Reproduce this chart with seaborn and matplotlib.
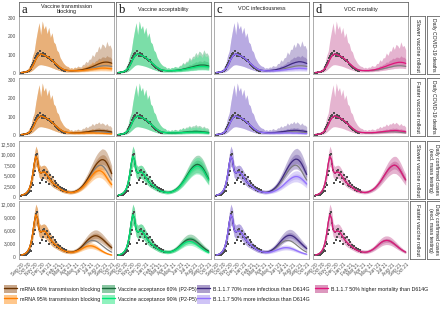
import numpy as np
import pandas as pd
import matplotlib
matplotlib.use("Agg")
import matplotlib.pyplot as plt
import matplotlib.dates as mdates
from matplotlib.patches import Patch
from matplotlib.lines import Line2D
import seaborn as sns

sns.set_style("white")
plt.rcParams['font.family'] = ['Liberation Sans', 'DejaVu Sans']

W, H = 440, 311

# ----------------------
# Data
# ----------------------
weeks = pd.date_range("2020-09-01", periods=57, freq="7D")   # model grid
proj_weeks = weeks[30:]

# observed daily deaths / cases (every 4 days)
obs_deaths = [2, 3, 3, 4, 5, 6, 8, 10,
              14, 18, 24, 32, 42, 55, 68, 80,
              92, 105, 112, 98, 118, 104, 95, 110,
              100, 92, 105, 96, 88, 84, 90, 78,
              72, 66, 70, 58, 52, 48, 44, 38,
              34, 30, 26, 22, 18, 15, 12, 10]
obs_cases = [300, 420, 350, 520, 600, 480, 750, 900,
             1100, 1500, 1300, 2400, 3300, 2900, 5100, 6200,
             9800, 10100, 7800, 6400, 3200, 5600, 3900, 6200,
             4500, 6300, 5100, 3600, 5800, 4400, 3000, 5200,
             4300, 3400, 4600, 2900, 3800, 2600, 3300, 2300,
             2800, 2000, 2400, 1700, 2100, 1500, 1800, 1300,
             1600, 1200]

# fitted period (Sep 2020 - Mar 2021), shared by all scenarios
deaths_fit = [3, 4, 5, 7, 10, 16, 25, 38, 55, 75, 90, 100, 104, 102, 98,
              94, 90, 85, 78, 70, 62, 54, 46, 38, 31, 25, 20, 17, 15, 14]
deaths_fit_hi = [8, 11, 12, 17, 22, 38, 55, 95, 120, 180, 230, 275, 210, 285, 240,
                 260, 215, 250, 195, 220, 170, 160, 125, 115, 85, 70, 55, 45, 38, 36]
deaths_fit_lo = [1, 1, 2, 3, 4, 6, 10, 16, 24, 32, 40, 45, 46, 45, 43,
                 41, 39, 36, 33, 29, 26, 22, 19, 16, 13, 10, 8, 7, 6, 6]
cases_fit = [400, 500, 650, 900, 1300, 2000, 3200, 5200, 7800, 9600, 8800, 6200, 5600, 5800, 5900,
             5700, 5200, 4600, 4000, 3500, 3100, 2800, 2500, 2200, 1900, 1650, 1450, 1300, 1200, 1100]
cases_fit_hi = [500, 650, 850, 1200, 1700, 2600, 4200, 6800, 10000, 12000, 11000, 7800, 7200, 7400, 7500,
                7300, 6700, 6000, 5300, 4700, 4200, 3800, 3400, 3000, 2650, 2350, 2100, 1900, 1750, 1650]
cases_fit_lo = [300, 380, 480, 650, 950, 1450, 2300, 3800, 5800, 7300, 6700, 4700, 4200, 4300, 4400,
                4200, 3800, 3300, 2900, 2500, 2200, 2000, 1750, 1550, 1350, 1150, 1000, 900, 820, 750]

# projections (Mar 30 - Sep 28 2021), medians
# deaths, slower rollout
ds_base = [13, 13, 13, 13, 14, 14, 15, 16, 17, 18, 20, 22, 24, 26, 28, 30, 32, 34, 36, 38, 39, 40, 40, 40, 39, 38, 36]
ds_a60 = [13, 13, 13, 14, 14, 15, 16, 17, 19, 21, 23, 26, 29, 32, 35, 39, 43, 47, 51, 54, 57, 59, 60, 60, 59, 57, 54]
ds_a95 = [13, 13, 13, 13, 13, 13, 14, 14, 15, 16, 17, 18, 19, 21, 22, 23, 24, 25, 26, 27, 27, 27, 27, 26, 25, 24, 23]
ds_b60 = [13, 13, 13, 13, 14, 14, 15, 16, 17, 19, 21, 23, 25, 27, 30, 32, 34, 37, 39, 41, 43, 44, 44, 44, 43, 41, 39]
ds_b90 = [13, 13, 13, 13, 14, 14, 15, 15, 16, 17, 19, 20, 22, 24, 26, 28, 30, 31, 33, 35, 36, 37, 37, 37, 36, 35, 33]
ds_c70 = [13, 13, 14, 14, 15, 16, 17, 19, 21, 23, 26, 29, 32, 36, 40, 44, 48, 52, 55, 58, 60, 62, 62, 61, 59, 56, 53]
ds_c50 = [13, 12, 12, 12, 12, 12, 13, 13, 14, 15, 16, 17, 18, 19, 20, 21, 22, 23, 24, 25, 25, 26, 26, 25, 25, 24, 23]
ds_d50 = [14, 14, 14, 14, 15, 16, 17, 19, 21, 23, 26, 29, 32, 35, 38, 42, 45, 48, 51, 54, 56, 58, 59, 59, 58, 56, 53]
# deaths, faster rollout
df_base = [13, 12, 12, 12, 12, 12, 12, 13, 13, 14, 14, 15, 16, 16, 17, 17, 18, 18, 18, 18, 17, 17, 16, 15, 14, 13, 12]
df_a60 = [13, 13, 12, 12, 13, 13, 13, 14, 15, 16, 17, 18, 19, 21, 22, 23, 24, 25, 25, 25, 24, 24, 23, 22, 20, 19, 17]
df_a95 = [13, 12, 11, 11, 11, 11, 11, 11, 11, 11, 12, 12, 12, 12, 12, 12, 11, 11, 11, 10, 10, 9, 9, 8, 8, 7, 7]
df_b60 = [13, 12, 12, 12, 12, 12, 13, 13, 14, 14, 15, 16, 17, 18, 18, 19, 19, 20, 20, 20, 19, 19, 18, 17, 16, 15, 14]
df_b90 = [13, 12, 12, 12, 12, 12, 12, 12, 13, 13, 14, 14, 15, 15, 16, 16, 16, 16, 16, 16, 16, 15, 15, 14, 13, 12, 11]
df_c70 = [13, 13, 13, 13, 13, 14, 14, 15, 16, 17, 18, 19, 20, 21, 23, 24, 25, 25, 26, 26, 26, 25, 24, 23, 22, 20, 19]
df_c50 = [13, 12, 11, 11, 11, 11, 11, 11, 11, 11, 11, 11, 12, 12, 12, 12, 12, 11, 11, 11, 11, 10, 10, 9, 9, 8, 8]
df_d50 = [14, 13, 13, 13, 13, 13, 14, 14, 15, 16, 17, 18, 19, 20, 21, 22, 23, 24, 24, 25, 25, 24, 23, 22, 21, 20, 18]
# cases, slower rollout
cs_base = [1050, 1050, 1100, 1200, 1350, 1550, 1800, 2100, 2500, 2950, 3450, 4000, 4600, 5200,
           5800, 6350, 6800, 7150, 7400, 7500, 7400, 7100, 6600, 6000, 5300, 4600, 4000]
cs_a60 = [1050, 1060, 1120, 1230, 1400, 1600, 1870, 2200, 2600, 3100, 3650, 4250, 4900, 5550,
          6200, 6850, 7450, 7950, 8350, 8650, 8800, 8750, 8500, 8000, 7250, 6400, 5500]
cs_a95 = [1040, 1030, 1070, 1150, 1280, 1450, 1680, 1960, 2300, 2700, 3150, 3650, 4150, 4650,
          5150, 5550, 5900, 6100, 6200, 6150, 5950, 5600, 5100, 4500, 3900, 3350, 2900]
cs_b60 = [1050, 1060, 1110, 1220, 1370, 1580, 1840, 2150, 2560, 3020, 3540, 4100, 4720, 5340,
          5950, 6520, 6980, 7340, 7600, 7700, 7620, 7380, 6980, 6420, 5700, 4950, 4250]
cs_b90 = [1050, 1040, 1090, 1180, 1330, 1520, 1760, 2050, 2440, 2880, 3360, 3900, 4480, 5060,
          5650, 6180, 6620, 6960, 7200, 7300, 7220, 6980, 6600, 6050, 5350, 4650, 4000]
cs_c70 = [1060, 1080, 1150, 1280, 1460, 1700, 2000, 2370, 2820, 3350, 3950, 4600, 5300, 6000,
          6700, 7350, 7900, 8350, 8700, 8900, 8900, 8700, 8300, 7700, 6950, 6100, 5300]
cs_c50 = [1040, 1010, 1020, 1060, 1130, 1230, 1370, 1540, 1750, 2000, 2280, 2600, 2940, 3300,
          3650, 3980, 4280, 4520, 4700, 4800, 4800, 4700, 4500, 4200, 3850, 3450, 3050]
cs_d50 = [1050, 1050, 1100, 1200, 1350, 1550, 1800, 2100, 2500, 2950, 3450, 4000, 4600, 5200,
          5800, 6350, 6800, 7150, 7400, 7500, 7400, 7100, 6600, 6000, 5300, 4600, 4000]
# cases, faster rollout
cf_base = [1050, 1050, 1100, 1200, 1340, 1530, 1770, 2050, 2370, 2700, 3020, 3300, 3520, 3660,
           3720, 3700, 3600, 3420, 3180, 2900, 2600, 2300, 2000, 1720, 1470, 1250, 1060]
cf_a60 = [1050, 1060, 1120, 1230, 1390, 1600, 1870, 2190, 2560, 2960, 3370, 3760, 4100, 4380,
          4600, 4750, 4800, 4750, 4600, 4380, 4100, 3780, 3430, 3070, 2720, 2380, 2070]
cf_a95 = [1040, 1030, 1060, 1130, 1240, 1380, 1550, 1740, 1940, 2130, 2290, 2420, 2490, 2500,
          2450, 2340, 2180, 1980, 1760, 1530, 1310, 1100, 910, 750, 610, 500, 410]
cf_b60 = [1050, 1060, 1110, 1220, 1370, 1570, 1830, 2130, 2470, 2830, 3180, 3500, 3760, 3940,
          4030, 4030, 3950, 3790, 3560, 3280, 2980, 2660, 2340, 2030, 1750, 1500, 1280]
cf_b90 = [1050, 1040, 1090, 1180, 1310, 1490, 1710, 1970, 2270, 2580, 2870, 3130, 3330, 3460,
          3500, 3470, 3360, 3180, 2940, 2670, 2390, 2100, 1830, 1570, 1340, 1140, 970]
cf_c70 = [1060, 1080, 1150, 1280, 1460, 1700, 1990, 2330, 2720, 3130, 3550, 3950, 4300, 4580,
          4780, 4880, 4880, 4780, 4580, 4300, 3970, 3610, 3240, 2870, 2520, 2190, 1890]
cf_c50 = [1040, 1010, 1020, 1060, 1130, 1230, 1350, 1490, 1630, 1770, 1890, 1990, 2060, 2090,
          2080, 2030, 1940, 1820, 1680, 1520, 1360, 1200, 1050, 910, 790, 680, 590]
cf_d50 = [1050, 1050, 1100, 1200, 1340, 1530, 1770, 2050, 2370, 2700, 3020, 3300, 3520, 3660,
          3720, 3700, 3600, 3420, 3180, 2900, 2600, 2300, 2000, 1720, 1470, 1250, 1060]

# projection band width, relative to the median
d_hi95 = [2.0, 2.3, 1.9, 2.4, 2.1, 2.6, 2.2, 2.0, 2.5, 2.3, 2.8, 2.2, 2.6, 2.4, 2.9, 2.3, 2.7, 2.5, 2.9, 2.4, 2.8, 2.6, 2.3, 2.9, 2.5, 2.7, 2.4]
d_lo95 = [0.5, 0.48, 0.5, 0.47, 0.5, 0.46, 0.48, 0.5, 0.47, 0.45, 0.48, 0.46, 0.47, 0.45, 0.46, 0.47, 0.45, 0.46, 0.45, 0.47, 0.46, 0.45, 0.46, 0.45, 0.46, 0.45, 0.46]
d_hi50 = [1.3, 1.4, 1.3, 1.45, 1.35, 1.5, 1.4, 1.35, 1.5, 1.4, 1.55, 1.4, 1.5, 1.45, 1.6, 1.4, 1.55, 1.5, 1.6, 1.45, 1.55, 1.5, 1.4, 1.6, 1.5, 1.55, 1.45]
d_lo50 = [0.75, 0.72, 0.75, 0.7, 0.73, 0.7, 0.72, 0.74, 0.7, 0.7, 0.72, 0.7, 0.71, 0.7, 0.7, 0.71, 0.7, 0.7, 0.7, 0.71, 0.7, 0.7, 0.7, 0.7, 0.7, 0.7, 0.7]
c_hi95 = [1.5, 1.48, 1.45, 1.43, 1.4, 1.38, 1.36, 1.34, 1.33, 1.32, 1.31, 1.3, 1.29, 1.29, 1.28, 1.28, 1.28, 1.28, 1.28, 1.28, 1.29, 1.29, 1.3, 1.31, 1.32, 1.33, 1.34]
c_lo95 = [0.68, 0.69, 0.7, 0.71, 0.72, 0.72, 0.73, 0.73, 0.74, 0.74, 0.74, 0.75, 0.75, 0.75, 0.75, 0.75, 0.75, 0.75, 0.75, 0.74, 0.74, 0.73, 0.73, 0.72, 0.71, 0.7, 0.69]
c_hi50 = [1.22, 1.21, 1.2, 1.19, 1.18, 1.17, 1.16, 1.16, 1.15, 1.15, 1.14, 1.14, 1.14, 1.13, 1.13, 1.13, 1.13, 1.13, 1.13, 1.13, 1.13, 1.14, 1.14, 1.14, 1.15, 1.15, 1.16]
c_lo50 = [0.84, 0.85, 0.85, 0.86, 0.86, 0.87, 0.87, 0.87, 0.88, 0.88, 0.88, 0.88, 0.88, 0.88, 0.88, 0.88, 0.88, 0.88, 0.88, 0.88, 0.88, 0.87, 0.87, 0.87, 0.86, 0.86, 0.85]

col_titles = ["Vaccine transmission\nblocking", "Vaccine acceptability", "VOC infectiousness", "VOC mortality"]
col_letters = ["a", "b", "c", "d"]
rollouts = ["Slower vaccine rollout", "Faster vaccine rollout", "Slower vaccine rollout", "Faster vaccine rollout"]
outcomes = ["Daily COVID-19 deaths", "Daily COVID-19 deaths",
            "Daily confirmed cases\n(excl. mass testing)", "Daily confirmed cases\n(excl. mass testing)"]

# scenario labels, colours (band, line)
scen_labels = {
    "a60": "mRNA 60% transmission blocking", "a95": "mRNA 95% transmission blocking",
    "b60": "Vaccine acceptance 60% (P2-P5)", "b90": "Vaccine acceptance 90% (P2-P5)",
    "c70": "B.1.1.7 70% more infectious than D614G", "c50": "B.1.1.7 50% more infectious than D614G",
    "d50": "B.1.1.7 50% higher mortality than D614G",
}
scen_colors = {
    "a60": ("#A0622D", "#6B3300"), "a95": ("#FF9A2E", "#FF7F00"),
    "b60": ("#2E9E5B", "#1A6B3C"), "b90": ("#33E88A", "#00E676"),
    "c70": ("#6A51A3", "#3F2A80"), "c50": ("#A995F0", "#9370FF"),
    "d50": ("#C0448A", "#E0157A"),
}
col_scen = [["a60", "a95"], ["b60", "b90"], ["c70", "c50"], ["d50"]]

proj = [
    {"base": ds_base, "a60": ds_a60, "a95": ds_a95, "b60": ds_b60, "b90": ds_b90, "c70": ds_c70, "c50": ds_c50, "d50": ds_d50},
    {"base": df_base, "a60": df_a60, "a95": df_a95, "b60": df_b60, "b90": df_b90, "c70": df_c70, "c50": df_c50, "d50": df_d50},
    {"base": cs_base, "a60": cs_a60, "a95": cs_a95, "b60": cs_b60, "b90": cs_b90, "c70": cs_c70, "c50": cs_c50, "d50": cs_d50},
    {"base": cf_base, "a60": cf_a60, "a95": cf_a95, "b60": cf_b60, "b90": cf_b90, "c70": cf_c70, "c50": cf_c50, "d50": cf_d50},
]

# ----------------------
# Layout (pixels)
# ----------------------
col_left = [19, 116, 214, 313]
col_w = 95
row_top = [16, 78, 141, 201]
row_h = 58
ylims = [(-5, 312), (-5, 312), (-500, 13200), (-500, 12700)]
yticks = [[0, 100, 200, 300], [0, 100, 200, 300],
          [0, 2500, 5000, 7500, 10000, 12500], [0, 3000, 6000, 9000, 12000]]
edge = "#A0A0A0"
txt = "#4D4D4D"


def px_axes(fig, x, y, w, h):
    return fig.add_axes([x / W, 1 - (y + h) / H, w / W, h / H])


def strip(fig, x, y, w, h, text, rot=0, size=3.9):
    s = px_axes(fig, x, y, w, h)
    s.set_xticks([])
    s.set_yticks([])
    s.set_facecolor("white")
    for sp in s.spines.values():
        sp.set_color("#666666")
        sp.set_linewidth(0.6)
    s.text(0.5, 0.5, text, rotation=rot, ha="center", va="center",
           fontsize=size, color="#1A1A1A", transform=s.transAxes, linespacing=1.1)
    return s


fig = plt.figure(figsize=(W / 100, H / 100), dpi=100)

for r in range(4):
    deaths = r < 2
    fit_mid = deaths_fit if deaths else cases_fit
    fit_lo = deaths_fit_lo if deaths else cases_fit_lo
    fit_hi = deaths_fit_hi if deaths else cases_fit_hi
    hi95, lo95, hi50, lo50 = (d_hi95, d_lo95, d_hi50, d_lo50) if deaths else (c_hi95, c_lo95, c_hi50, c_lo50)
    obs = obs_deaths if deaths else obs_cases
    obs_dates = pd.date_range("2020-09-01", periods=len(obs), freq="4D")

    for c in range(4):
        ax = px_axes(fig, col_left[c], row_top[r], col_w, row_h)
        ax.set_facecolor("white")

        # ribbons
        for key in col_scen[c]:
            band, line = scen_colors[key]
            p = np.array(proj[r][key], dtype=float)
            lo = np.concatenate([fit_lo, p * np.array(lo95)])
            hi = np.concatenate([fit_hi, p * np.array(hi95)])
            ax.fill_between(weeks, lo, hi, color=band, alpha=0.4, lw=0)
            ax.fill_between(proj_weeks, p * np.array(lo50), p * np.array(hi50),
                            color=band, alpha=0.4, lw=0)

        sns.scatterplot(x=obs_dates, y=obs, ax=ax, marker="s", s=4, color="#4D4D4D",
                        linewidth=0, zorder=3)

        sns.lineplot(x=weeks, y=np.concatenate([fit_mid, proj[r]["base"]]), ax=ax,
                     color="#808080", lw=0.9, zorder=4)
        for key in col_scen[c]:
            band, line = scen_colors[key]
            sns.lineplot(x=weeks, y=np.concatenate([fit_mid, proj[r][key]]), ax=ax,
                         color=line, lw=0.9, zorder=5)

        ax.set_xlim(pd.Timestamp("2020-08-22"), pd.Timestamp("2021-10-08"))
        ax.set_ylim(*ylims[r])
        ax.set_xlabel("")
        ax.set_ylabel("")
        ax.set_yticks(yticks[r])
        ax.xaxis.set_major_locator(mdates.MonthLocator())
        ax.xaxis.set_major_formatter(mdates.DateFormatter("%b %y"))
        ax.tick_params(axis="both", labelsize=3.5, colors=txt, length=1.5, width=0.4, pad=0.8)
        if c == 0:
            ax.yaxis.set_major_formatter(matplotlib.ticker.FuncFormatter(lambda v, p: f"{int(v):,}"))
        else:
            ax.tick_params(axis="y", left=False, labelleft=False)
        if r == 3:
            for lab in ax.get_xticklabels():
                lab.set_rotation(45)
                lab.set_ha("right")
                lab.set_rotation_mode("anchor")
        else:
            ax.tick_params(axis="x", bottom=False, labelbottom=False)
        for sp in ax.spines.values():
            sp.set_color(edge)
            sp.set_linewidth(0.6)

    # row strips
    strip(fig, 410, row_top[r], 15, row_h, rollouts[r], rot=-90)
    strip(fig, 427, row_top[r], 13, row_h, outcomes[r], rot=-90, size=3.7)

# column strips
for c in range(4):
    s = strip(fig, col_left[c], 2, col_w, 14, col_titles[c], size=3.9)
    s.text(0.03, 0.42, col_letters[c], ha="left", va="center", fontsize=9,
           family="Liberation Serif", color="#111111", transform=s.transAxes)

# legends
leg_x = [4, 102, 197, 315]
for c in range(4):
    handles = []
    labels = []
    for key in col_scen[c]:
        band, line = scen_colors[key]
        handles.append((Patch(facecolor=band, alpha=0.55, lw=0), Line2D([], [], color=line, lw=1)))
        labels.append(scen_labels[key])
    fig.legend(handles, labels, loc="upper left", bbox_to_anchor=(leg_x[c] / W, 1 - 285 / H),
               frameon=False, fontsize=3.8, handlelength=2.4, handleheight=2.1,
               labelspacing=0.35, handletextpad=0.7, borderaxespad=0, borderpad=0,
               labelcolor="#1A1A1A")

fig.savefig("out.png", dpi=100)
